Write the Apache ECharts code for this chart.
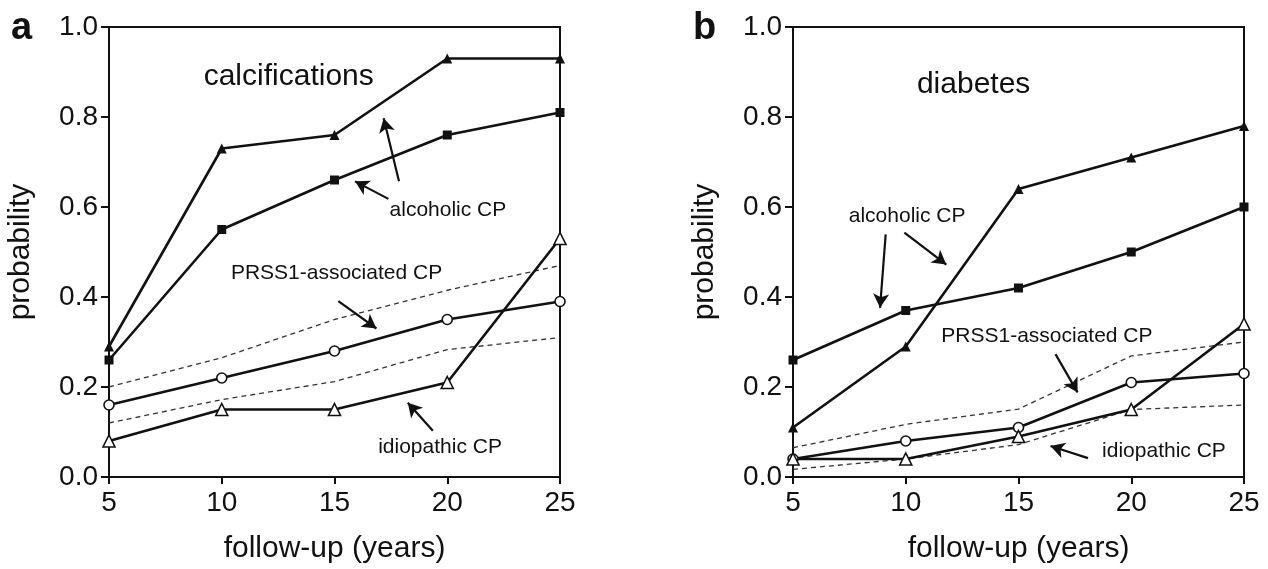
<!DOCTYPE html>
<html>
<head>
<meta charset="utf-8">
<script src="https://cdn.jsdelivr.net/npm/echarts@6/dist/echarts.min.js"></script>
<style>
  html, body { margin: 0; padding: 0; background: #fff; }
  #chart { width: 1268px; height: 569px; }
</style>
</head>
<body>
<div id="chart"></div>
<script>
// follow-up years
var years = [5, 10, 15, 20, 25];

// a: calcifications
var calcAlcTri = [0.29, 0.73, 0.76, 0.93, 0.93];
var calcAlcSq = [0.26, 0.55, 0.66, 0.76, 0.81];
var calcPrss1 = [0.16, 0.22, 0.28, 0.35, 0.39];
var calcPrss1Hi = [0.20, 0.265, 0.35, 0.415, 0.47];
var calcPrss1Lo = [0.12, 0.172, 0.212, 0.283, 0.31];
var calcIdio = [0.08, 0.15, 0.15, 0.21, 0.53];

// b: diabetes
var diabAlcTri = [0.11, 0.29, 0.64, 0.71, 0.78];
var diabAlcSq = [0.26, 0.37, 0.42, 0.50, 0.60];
var diabPrss1 = [0.04, 0.08, 0.11, 0.21, 0.23];
var diabPrss1Hi = [0.065, 0.117, 0.151, 0.269, 0.30];
var diabPrss1Lo = [0.017, 0.04, 0.072, 0.15, 0.16];
var diabIdio = [0.04, 0.04, 0.09, 0.15, 0.34];

var FONT = '"Liberation Sans", Arial, Helvetica, sans-serif';
var INK = '#111';

function pairs(vals) {
  return years.map(function (y, i) { return [y, vals[i]]; });
}

// note text + arrows, placed in data units of each panel
var notesA = {
  texts: [
    { name: 'calcifications', coord: [12.97, 0.889], size: 30 },
    { name: 'alcoholic CP', coord: [20.03, 0.592], size: 21 },
    { name: 'PRSS1-associated CP', coord: [15.09, 0.452], size: 21 },
    { name: 'idiopathic CP', coord: [19.68, 0.066], size: 21 }
  ],
  arrows: [
    [[17.86, 0.657], [17.18, 0.797]],
    [[17.39, 0.618], [15.91, 0.657]],
    [[15.17, 0.391], [16.86, 0.330]],
    [[19.36, 0.103], [18.25, 0.165]]
  ]
};
var notesB = {
  texts: [
    { name: 'diabetes', coord: [13.01, 0.871], size: 30 },
    { name: 'alcoholic CP', coord: [10.06, 0.579], size: 21 },
    { name: 'PRSS1-associated CP', coord: [16.26, 0.312], size: 21 },
    { name: 'idiopathic CP', coord: [21.45, 0.058], size: 21 }
  ],
  arrows: [
    [[9.11, 0.539], [8.86, 0.376]],
    [[9.94, 0.543], [11.80, 0.472]],
    [[16.64, 0.273], [17.62, 0.188]],
    [[18.08, 0.042], [16.42, 0.069]]
  ]
};

function xAxis(idx) {
  return {
    type: 'value', gridIndex: idx, min: 5, max: 25, interval: 5,
    name: 'follow-up (years)', nameLocation: 'middle', nameGap: 57,
    nameTextStyle: { fontFamily: FONT, fontSize: 30, color: INK },
    axisLine: { show: true, lineStyle: { color: INK, width: 2 } },
    axisTick: { show: true, length: 7, lineStyle: { color: INK, width: 2 } },
    axisLabel: { fontFamily: FONT, fontSize: 28, color: INK, margin: 12 },
    splitLine: { show: false }
  };
}
function yAxis(idx) {
  return {
    type: 'value', gridIndex: idx, min: 0, max: 1, interval: 0.2,
    name: 'probability', nameLocation: 'middle', nameGap: 73,
    nameTextStyle: { fontFamily: FONT, fontSize: 30, color: INK },
    axisLine: { show: true, lineStyle: { color: INK, width: 2 } },
    axisTick: { show: true, length: 8, lineStyle: { color: INK, width: 2 } },
    axisLabel: {
      fontFamily: FONT, fontSize: 28, color: INK, margin: 11,
      formatter: function (v) { return v.toFixed(1); }
    },
    splitLine: { show: false }
  };
}

function solid(idx, vals, symbol, size, open) {
  return {
    type: 'line', xAxisIndex: idx, yAxisIndex: idx, data: pairs(vals),
    symbol: symbol, symbolSize: size, showSymbol: true, clip: false, z: 5,
    lineStyle: { color: INK, width: 2.6 },
    itemStyle: open
      ? { color: '#fff', borderColor: INK, borderWidth: 1.6 }
      : { color: INK, borderColor: INK, borderWidth: 0 }
  };
}
function dashed(idx, vals) {
  return {
    type: 'line', xAxisIndex: idx, yAxisIndex: idx, data: pairs(vals),
    symbol: 'none', clip: false, z: 3,
    lineStyle: { color: '#333', width: 1.3, type: [5, 4] }
  };
}
function withNotes(s, notes) {
  s.markPoint = {
    silent: true, symbol: 'circle', symbolSize: 0,
    data: notes.texts.map(function (t) {
      return {
        name: t.name, coord: t.coord,
        label: {
          show: true, position: 'inside', formatter: t.name,
          fontFamily: FONT, fontSize: t.size, color: INK
        }
      };
    })
  };
  s.markLine = {
    silent: true, symbol: ['none', 'arrow'], symbolSize: [12, 14],
    label: { show: false },
    lineStyle: { color: INK, width: 2.2, type: 'solid' },
    data: notes.arrows.map(function (a) {
      return [{ coord: a[0] }, { coord: a[1] }];
    })
  };
  return s;
}

var chart = echarts.init(document.getElementById('chart'));
chart.setOption({
  animation: false,
  backgroundColor: '#fff',
  textStyle: { fontFamily: FONT },
  title: [
    { text: 'a', left: 6, top: 5, textStyle: { fontFamily: FONT, fontSize: 38, fontWeight: 'bold', color: INK } },
    { text: 'b', left: 688, top: 5, textStyle: { fontFamily: FONT, fontSize: 38, fontWeight: 'bold', color: INK } }
  ],
  grid: [
    { left: 109, top: 27, width: 451, height: 451, show: true, borderColor: INK, borderWidth: 2, backgroundColor: 'transparent' },
    { left: 793, top: 27, width: 451, height: 451, show: true, borderColor: INK, borderWidth: 2, backgroundColor: 'transparent' }
  ],
  xAxis: [xAxis(0), xAxis(1)],
  yAxis: [yAxis(0), yAxis(1)],
  series: [
    withNotes(dashed(0, calcPrss1Lo), notesA),
    dashed(0, calcPrss1Hi),
    solid(0, calcAlcTri, 'triangle', 10, false),
    solid(0, calcAlcSq, 'rect', 9, false),
    solid(0, calcPrss1, 'circle', 10, true),
    solid(0, calcIdio, 'triangle', 12, true),

    withNotes(dashed(1, diabPrss1Lo), notesB),
    dashed(1, diabPrss1Hi),
    solid(1, diabAlcTri, 'triangle', 10, false),
    solid(1, diabAlcSq, 'rect', 9, false),
    solid(1, diabPrss1, 'circle', 10, true),
    solid(1, diabIdio, 'triangle', 12, true)
  ]
});
</script>
</body>
</html>
